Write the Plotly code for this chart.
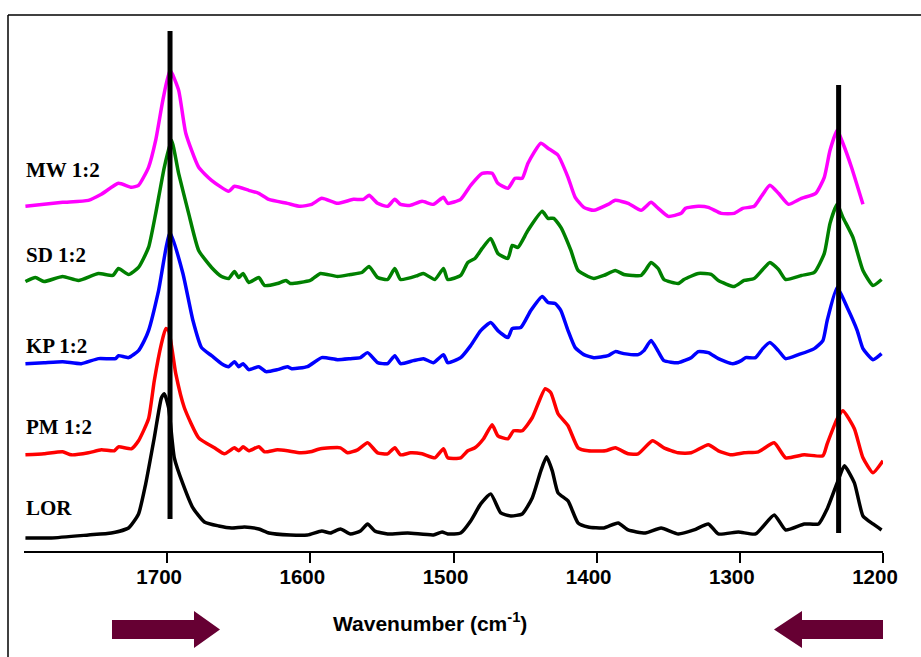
import plotly.graph_objects as go

# ---------------- data ----------------
lor_wn = [1799,1781,1755,1739,1727,1720,1715,1709,1704,1702,1699,1695,1689,1682,1674,1664,1655,1646,1636,1629,
          1614,1602,1592,1586,1579,1572,1565,1560,1555,1546,1532,1514,1508,1504,1495,1488,1481,1474,1467,1460,
          1452,1445,1439,1435,1431,1427,1420,1413,1406,1395,1385,1378,1366,1355,1343,1332,1322,1315,1301,1289,
          1276,1268,1255,1245,1239,1232,1227,1220,1214,1207,1201]
lor_y = [13,13,16,18,23,37,67,113,153,157,143,93,67,43,29,25,23,24,22,18,
         16,16,20,18,22,17,20,27,20,17,18,16,19,17,18,30,47,57,38,35,
         37,53,80,94,80,58,50,28,24,23,28,21,18,23,17,21,27,17,19,17,
         36,21,27,27,42,68,85,68,35,27,21]

pm_wn = [1799,1786,1773,1767,1755,1746,1737,1734,1725,1720,1713,1709,1704,1701,1699,1694,1688,1678,1667,1660,
         1653,1650,1647,1643,1636,1632,1623,1616,1607,1600,1593,1579,1574,1567,1560,1553,1546,1541,1537,1530,
         1522,1513,1507,1504,1495,1490,1485,1479,1473,1469,1462,1458,1452,1445,1436,1432,1427,1420,1413,1406,
         1394,1387,1378,1371,1361,1353,1343,1334,1322,1315,1306,1297,1287,1276,1268,1255,1242,1239,1232,1228,
         1220,1214,1207,1200]
pm_y = [96,97,99,96,98,101,100,104,102,110,132,170,207,222,220,177,143,113,103,97,
        103,100,104,100,104,99,101,100,98,99,102,103,98,101,108,98,97,103,96,98,
        97,93,102,93,93,100,103,112,126,115,112,120,120,133,162,158,137,125,103,100,
        100,103,97,97,110,103,98,98,106,100,96,98,99,108,93,96,95,107,132,140,
        122,93,78,90]

kp_wn = [1799,1786,1773,1760,1748,1736,1734,1727,1720,1716,1713,1706,1698,1689,1682,1676,1669,1662,1657,1653,
         1650,1647,1643,1636,1631,1623,1616,1613,1602,1592,1581,1572,1565,1560,1553,1546,1541,1537,1528,1521,
         1514,1507,1504,1495,1488,1481,1474,1469,1462,1459,1453,1446,1438,1434,1429,1425,1420,1415,1409,1402,
         1392,1387,1381,1371,1367,1362,1357,1353,1343,1334,1329,1322,1315,1305,1299,1296,1289,1284,1279,1273,
         1268,1259,1248,1242,1239,1232,1225,1218,1214,1207,1201]
kp_y = [187,188,189,187,192,192,195,193,200,210,220,260,318,277,230,203,195,187,184,189,
        184,187,181,184,179,181,184,182,184,193,191,192,193,198,188,187,195,187,190,192,
        188,196,188,193,205,220,228,220,213,222,223,240,254,248,247,240,220,203,196,193,
        195,199,197,196,200,210,199,190,188,193,199,198,192,187,190,193,193,202,208,200,
        192,196,202,210,230,263,243,220,202,191,197]

sd_wn = [1799,1792,1786,1773,1762,1748,1738,1734,1727,1720,1713,1708,1702,1697,1692,1685,1678,1669,1662,1657,
         1653,1650,1647,1643,1636,1632,1623,1617,1614,1600,1593,1581,1572,1564,1559,1553,1546,1541,1537,1525,
         1521,1513,1507,1504,1495,1490,1485,1480,1474,1469,1462,1459,1455,1448,1438,1434,1430,1425,1418,1413,
         1406,1402,1395,1387,1381,1375,1369,1366,1362,1357,1353,1343,1339,1329,1320,1315,1304,1297,1290,1284,
         1279,1273,1268,1257,1248,1241,1237,1232,1228,1221,1214,1207,1201]
sd_y = [269,273,269,274,270,277,275,282,276,283,303,337,383,410,377,337,300,283,274,272,
        279,273,277,268,273,265,267,270,267,270,277,274,276,278,284,273,271,282,271,275,
        277,271,282,271,275,288,292,302,312,297,292,305,303,320,339,332,332,323,300,280,
        274,272,275,280,276,275,275,280,288,282,271,267,271,277,276,270,264,270,272,281,
        288,281,271,275,278,297,327,346,333,313,280,265,271]

mw_wn = [1799,1786,1773,1755,1746,1734,1725,1720,1713,1708,1703,1698,1692,1687,1678,1669,1657,1653,1643,1636,
         1629,1616,1607,1599,1592,1581,1570,1563,1559,1553,1546,1541,1537,1530,1522,1514,1507,1504,1495,1488,
         1480,1473,1469,1462,1457,1452,1448,1439,1434,1427,1420,1415,1409,1402,1392,1387,1378,1369,1362,1357,
         1350,1341,1338,1329,1322,1313,1304,1298,1290,1284,1279,1273,1266,1257,1247,1241,1237,1232,1228,1222,
         1214]
mw_y = [344,346,348,350,356,367,363,365,383,410,450,480,460,417,383,370,359,364,360,357,
        351,347,344,346,352,347,351,351,355,347,344,351,346,345,349,346,353,347,351,365,
        377,377,367,362,372,372,387,407,402,395,373,353,343,340,346,350,347,340,348,342,
        334,337,342,344,343,337,337,342,344,356,365,357,346,352,357,373,400,420,407,383,
        346]

series_names = ["LOR", "PM 1:2", "KP 1:2", "SD 1:2", "MW 1:2"]
series_colors = ["#000000", "#FF0000", "#0000FF", "#008000", "#FF00FF"]
label_y = [43, 124, 205, 295, 380]

marker_wn = [1698, 1231]
marker_y0 = [32, 18]
marker_y1 = [519, 465]

tick_vals = [1700, 1600, 1500, 1400, 1300, 1200]
tick_text = ["1700", "1600", "1500", "1400", "1300", "1200"]

# ---------------- figure ----------------
W, H = 921, 657
L, R, T, B = 24, 38, 20, 106
pw, ph = W - L - R, H - T - B
def px(x):
    return (x - L) / pw
def py(y):
    return (H - B - y) / ph

fig = go.Figure()
all_wn = [lor_wn, pm_wn, kp_wn, sd_wn, mw_wn]
all_y = [lor_y, pm_y, kp_y, sd_y, mw_y]
for name, col, xs, ys in zip(series_names, series_colors, all_wn, all_y):
    fig.add_trace(go.Scatter(x=xs, y=ys, mode="lines", name=name,
                             line=dict(color=col, width=3.5, shape="spline", smoothing=0.5),
                             showlegend=False, hoverinfo="skip"))

for name, yv in zip(series_names, label_y):
    fig.add_annotation(x=px(24), y=yv, xref="paper", yref="y", text="<b>" + name + "</b>",
                       showarrow=False, xanchor="left", yanchor="middle",
                       font=dict(family="Liberation Serif, Times New Roman, serif", size=21, color="black"))

shapes = []
for wn, y0, y1 in zip(marker_wn, marker_y0, marker_y1):
    shapes.append(dict(type="line", xref="x", yref="y", x0=wn, x1=wn, y0=y0, y1=y1,
                       line=dict(color="black", width=5), layer="above"))

# outer frame (top and left edges visible)
shapes.append(dict(type="line", xref="paper", yref="paper", x0=px(8), x1=px(925), y0=py(15), y1=py(15),
                   line=dict(color="black", width=1.5)))
shapes.append(dict(type="line", xref="paper", yref="paper", x0=px(8), x1=px(8), y0=py(15), y1=py(665),
                   line=dict(color="black", width=1.5)))

# direction arrows
def poly(pts):
    return "M " + " L ".join(f"{px(a):.5f},{py(b):.5f}" for a, b in pts) + " Z"

right_arrow = [(112, 620), (194, 620), (194, 611), (220, 629.5), (194, 648), (194, 639), (112, 639)]
left_arrow = [(883, 620), (802, 620), (802, 611), (774, 629.5), (802, 648), (802, 639), (883, 639)]
for pts in (right_arrow, left_arrow):
    shapes.append(dict(type="path", xref="paper", yref="paper", path=poly(pts),
                       fillcolor="#660033", line=dict(color="#660033", width=0)))

fig.update_layout(shapes=shapes)

fig.add_annotation(x=px(430), y=py(622), xref="paper", yref="paper",
                   text="<b>Wavenumber (cm<sup>-1</sup>)</b>", showarrow=False,
                   xanchor="center", yanchor="middle",
                   font=dict(family="Liberation Sans, Arial, sans-serif", size=21, color="black"))

fig.update_layout(
    width=W, height=H,
    margin=dict(l=L, r=R, t=T, b=B, pad=0, autoexpand=False),
    paper_bgcolor="white", plot_bgcolor="white",
    xaxis=dict(range=[1800, 1200], tickmode="array", tickvals=tick_vals, ticktext=tick_text,
               showgrid=False, zeroline=False, showline=True, linecolor="black", linewidth=2,
               ticks="outside", ticklen=10, tickwidth=2, tickcolor="black",
               ticklabelshift=8, ticklabelstandoff=-4, automargin=False,
               tickfont=dict(family="Liberation Sans, Arial, sans-serif", size=20.5, color="black", weight="bold")),
    yaxis=dict(range=[0, 530], visible=False, showgrid=False, zeroline=False),
)

fig.write_html("out.html")
